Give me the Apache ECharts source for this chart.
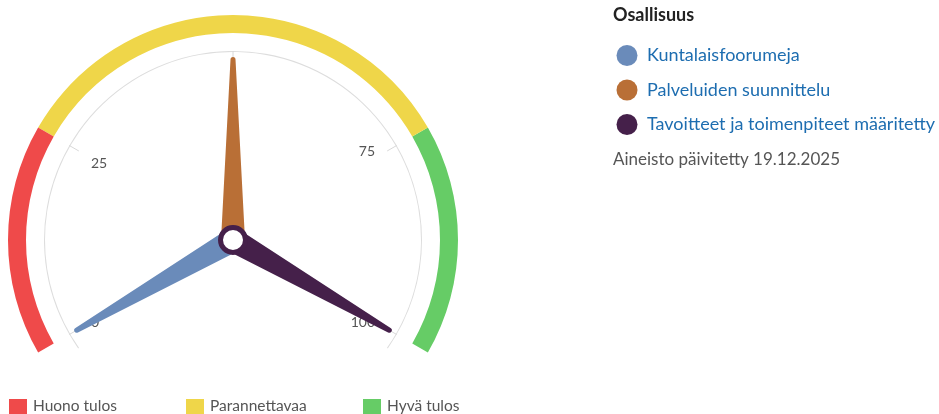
<!DOCTYPE html>
<html>
<head>
<meta charset="utf-8">
<script src="https://cdn.jsdelivr.net/npm/echarts@6/dist/echarts.min.js"></script>
<style>
  html, body { margin: 0; padding: 0; background: #fff; }
  #chart { width: 939px; height: 414px; }
</style>
</head>
<body>
<div id="chart"></div>
<script>
const categories = ["Kuntalaisfoorumeja", "Palveluiden suunnittelu", "Tavoitteet ja toimenpiteet määritetty"];
const values = [0, 50, 100];
const pointerColors = ["#6a8bba", "#b96f36", "#45204a"];
const bandNames = ["Huono tulos", "Parannettavaa", "Hyvä tulos"];
const bandStops = [0.25, 0.75, 1];
const bandColors = ["#ef4a4a", "#efd649", "#66cc66"];
const tickLabels = [0, 25, 75, 100];
const legendTitle = "Osallisuus";
const updatedText = "Aineisto päivitetty 19.12.2025";

const FONT = "Lato, 'Source Sans Pro', sans-serif";
const center = [233, 240];

const myChart = echarts.init(document.getElementById("chart"));

// tapered needle with a rounded tip
const needle = "path://M9.5,3 A2.5,2.5 0 0 1 14.5,3 L24,183 L0,183 Z";

const graphics = [];
categories.forEach((name, i) => {
  const y = 55.5 + i * 34.5;
  graphics.push({
    type: "circle",
    shape: { cx: 627, cy: y, r: 10.5 },
    style: { fill: pointerColors[i] },
  });
  graphics.push({
    type: "text",
    left: 647,
    top: y - 9,
    style: { text: name, fill: "#1d6db0", font: "18px " + FONT },
  });
});
graphics.push({
  type: "text",
  left: 613,
  top: 6,
  style: { text: legendTitle, fill: "#222", font: "bold 18px " + FONT },
});
graphics.push({
  type: "text",
  left: 613,
  top: 151,
  style: { text: updatedText, fill: "#555", font: "17px " + FONT },
});
bandNames.forEach((name, i) => {
  const x = 9 + i * 177;
  graphics.push({
    type: "rect",
    shape: { x: x, y: 399, width: 18, height: 18 },
    style: { fill: bandColors[i] },
  });
  graphics.push({
    type: "text",
    left: x + 24,
    top: 398,
    style: { text: name, fill: "#555", font: "15.5px " + FONT },
  });
});

const option = {
  animation: false,
  graphic: graphics,
  series: [
    {
      // coloured band
      type: "gauge",
      center: center,
      radius: 225,
      startAngle: 210,
      endAngle: -30,
      min: 0,
      max: 100,
      axisLine: {
        lineStyle: {
          width: 18,
          color: bandStops.map((s, i) => [s, bandColors[i]]),
        },
      },
      pointer: { show: false },
      axisTick: { show: false },
      splitLine: { show: false },
      axisLabel: { show: false },
      detail: { show: false },
      title: { show: false },
      data: [],
    },
    {
      // thin grey arc
      type: "gauge",
      center: center,
      radius: 189,
      startAngle: 215,
      endAngle: -35,
      axisLine: { lineStyle: { width: 1, color: [[1, "#dddddd"]] } },
      pointer: { show: false },
      axisTick: { show: false },
      splitLine: { show: false },
      axisLabel: { show: false },
      detail: { show: false },
      title: { show: false },
      data: [],
    },
    {
      type: "gauge",
      center: center,
      radius: 189,
      startAngle: 210,
      endAngle: -30,
      min: 0,
      max: 100,
      splitNumber: 4,
      axisLine: { show: false, lineStyle: { width: 0 } },
      axisTick: { show: false },
      splitLine: {
        length: 11,
        distance: 0,
        lineStyle: { color: "#d8d8d8", width: 1 },
      },
      axisLabel: {
        distance: 14,
        color: "#555",
        fontSize: 14,
        fontFamily: FONT,
        formatter: (v) => {
          if (tickLabels.indexOf(v) < 0) return "";
          if (v === 25) return "{l|" + v + "\u2002\u2002}";
          if (v === 75) return "{r|\u2002" + v + "}";
          return String(v);
        },
        rich: {
          l: { color: "#555", fontSize: 14, fontFamily: FONT, padding: [10, 0, 0, 0] },
          r: { color: "#555", fontSize: 14, fontFamily: FONT, padding: [0, 0, 14, 0] },
        },
      },
      pointer: {
        icon: needle,
        length: 183,
        width: 24,
        offsetCenter: [0, 0],
      },
      anchor: {
        show: true,
        showAbove: true,
        size: 25,
        itemStyle: { color: "#fff", borderColor: "#45204a", borderWidth: 5 },
      },
      detail: { show: false },
      title: { show: false },
      data: categories.map((name, i) => ({
        name: name,
        value: values[i],
        itemStyle: { color: pointerColors[i] },
      })),
    },
  ],
};

myChart.setOption(option);
</script>
</body>
</html>
